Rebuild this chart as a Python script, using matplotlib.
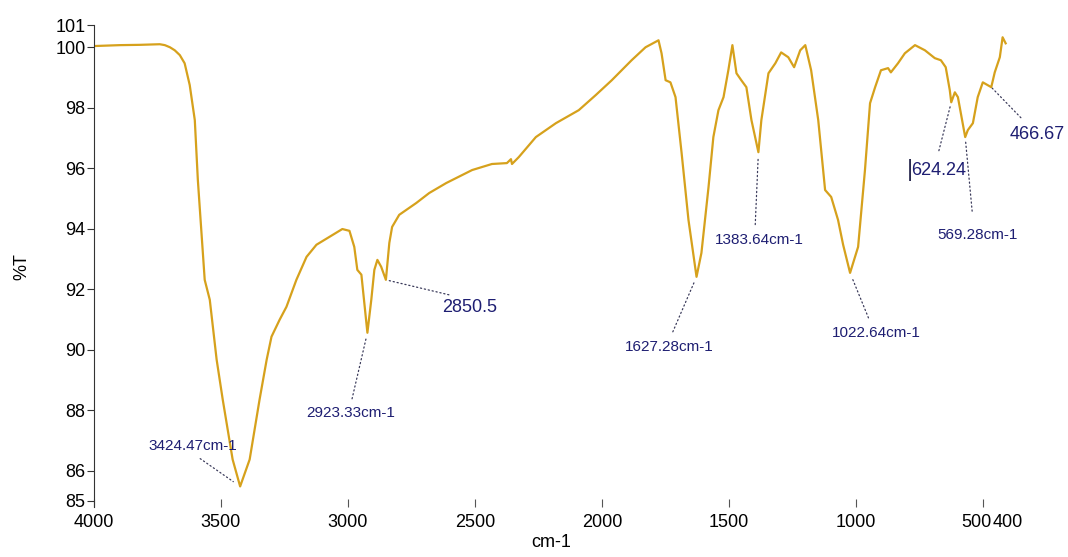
import matplotlib.pyplot as plt
import matplotlib.transforms as mtransforms

# FTIR spectrum, read point by point (wavenumber in cm-1, %T)
wavenumber = [4000, 3898, 3819, 3741, 3721, 3701, 3682, 3662, 3643, 3623,
              3603, 3591, 3564, 3544, 3517, 3493, 3454, 3424.47, 3387, 3348,
              3320, 3301, 3269, 3242, 3203, 3163, 3124, 3073, 3022, 2994,
              2975, 2963, 2947, 2923.33, 2908, 2896, 2884, 2869, 2850.5, 2837,
              2826, 2798, 2731, 2680, 2613, 2511, 2433, 2374, 2358, 2354,
              2327, 2260, 2181, 2091, 2024, 1961, 1883, 1828, 1777, 1765,
              1749, 1730, 1710, 1686, 1659, 1627.28, 1608, 1580, 1561, 1541,
              1521, 1502, 1486, 1470, 1451, 1431, 1411, 1383.64, 1372, 1344,
              1317, 1294, 1266, 1243, 1219, 1199, 1176, 1148, 1121, 1097,
              1070, 1050, 1022.64, 991, 964, 944, 924, 901, 873, 862,
              834, 807, 767, 728, 689, 665, 646, 630, 624.24, 610,
              598, 569.28, 559, 539, 520, 500, 466.67, 453, 433, 422,
              410]
transmittance = [100.04, 100.07, 100.08, 100.10, 100.07, 100.00, 99.90, 99.74, 99.47, 98.75,
                 97.59, 95.61, 92.31, 91.65, 89.67, 88.35, 86.37, 85.48, 86.37, 88.35,
                 89.67, 90.43, 90.99, 91.42, 92.31, 93.07, 93.47, 93.73, 93.99, 93.93,
                 93.40, 92.64, 92.48, 90.56, 91.65, 92.64, 92.97, 92.74, 92.31, 93.53,
                 94.06, 94.46, 94.85, 95.18, 95.51, 95.94, 96.14, 96.17, 96.30, 96.14,
                 96.37, 97.03, 97.49, 97.92, 98.42, 98.91, 99.57, 100.00, 100.23, 99.80,
                 98.91, 98.84, 98.35, 96.50, 94.29, 92.41, 93.20, 95.38, 97.03, 97.92,
                 98.35, 99.24, 100.07, 99.14, 98.91, 98.68, 97.59, 96.53, 97.59, 99.14,
                 99.47, 99.83, 99.67, 99.34, 99.90, 100.07, 99.24, 97.59, 95.28, 95.05,
                 94.29, 93.47, 92.54, 93.40, 95.94, 98.15, 98.68, 99.24, 99.31, 99.17,
                 99.47, 99.80, 100.07, 99.90, 99.64, 99.57, 99.34, 98.58, 98.18, 98.51,
                 98.35, 97.03, 97.26, 97.49, 98.35, 98.84, 98.68, 99.17, 99.67, 100.33,
                 100.13]

# labelled bands
peak_wn = [3424.47, 2923.33, 2850.5, 1627.28, 1383.64, 1022.64, 624.24, 569.28, 466.67]
peak_text = ["3424.47cm-1", "2923.33cm-1", "2850.5", "1627.28cm-1", "1383.64cm-1",
             "1022.64cm-1", "624.24", "569.28cm-1", "466.67"]

x_ticks = [4000, 3500, 3000, 2500, 2000, 1500, 1000, 500, 400]
y_ticks = [85, 86, 88, 90, 92, 94, 96, 98, 100, 100.73]
y_tick_labels = ["85", "86", "88", "90", "92", "94", "96", "98", "100", "101"]

plt.rcParams['font.family'] = ['Liberation Sans', 'DejaVu Sans']

fig = plt.figure(figsize=(10.68, 5.57), dpi=100)
ax = fig.add_axes([0.088, 0.0898, 0.856, 0.865])

ax.plot(wavenumber, transmittance, color='#D6A11C', lw=1.6)

ax.set_xlim(4000, 400)
ax.set_ylim(84.8, 100.73)

# label placement (text centre in data units) and leader settings
label_pos = [(3611, 86.80), (2990, 87.92), (2519, 91.39), (1734, 90.10), (1380, 93.63),
             (920, 90.56), (673, 95.94), (520, 93.80), (284, 97.10)]
label_relpos = [(0.5, 0.0), (0.5, 1.0), (0.45, 1.0), (0.5, 1.0), (0.45, 1.0),
                (0.45, 1.0), (0.45, 1.0), (0.45, 1.0), (0.35, 1.0)]
label_shrink = [(3, 6), (3, 4), (5, 2), (4, 4), (4, 4), (4, 5), (6, 3), (10, 2), (6, 1)]
big_labels = {"2850.5", "624.24", "466.67"}

lookup = dict(zip(wavenumber, transmittance))
for wn, txt, pos, rp, (sa, sb) in zip(peak_wn, peak_text, label_pos, label_relpos, label_shrink):
    size = 13 if txt in big_labels else 11
    ax.annotate(txt, xy=(wn, lookup[wn]), xytext=pos, textcoords='data',
                ha='center', va='center', color='#1E1E72', fontsize=size,
                annotation_clip=False,
                arrowprops=dict(arrowstyle='-', color='#3A3A5A', lw=0.9,
                                linestyle=(0, (1, 2.2)), relpos=rp,
                                shrinkA=sa, shrinkB=sb))

# text cursor bar left of the 624.24 label
ax.annotate("|", xy=(673, 95.94), xytext=(-21, 0), textcoords='offset points',
            ha='center', va='center', color='#2A2A50', fontsize=17)

ax.spines['top'].set_visible(False)
ax.spines['right'].set_visible(False)
ax.spines['bottom'].set_visible(False)
ax.spines['left'].set_color('#333333')

ax.set_xticks(x_ticks)
ax.set_xticklabels([str(t) for t in x_ticks])
ax.set_yticks(y_ticks)
ax.set_yticklabels(y_tick_labels)
ax.tick_params(axis='x', direction='in', length=6, width=0.8, pad=5, labelsize=13, color='#555555')
ax.tick_params(axis='y', direction='out', length=5, width=0.8, pad=1, labelsize=13, color='#333333')

# "500" and "400" sit next to each other as one block
shift = mtransforms.ScaledTranslation(-6 / 100, 0, fig.dpi_scale_trans)
for tick in ax.xaxis.get_major_ticks():
    if tick.get_loc() == 500:
        tick.label1.set_transform(tick.label1.get_transform() + shift)
    if tick.get_loc() == 400:
        tick.tick1line.set_visible(False)

ax.set_xlabel("cm-1", fontsize=13, labelpad=2)
ax.set_ylabel("%T", fontsize=13, labelpad=18)

fig.savefig("out.png", dpi=100)
